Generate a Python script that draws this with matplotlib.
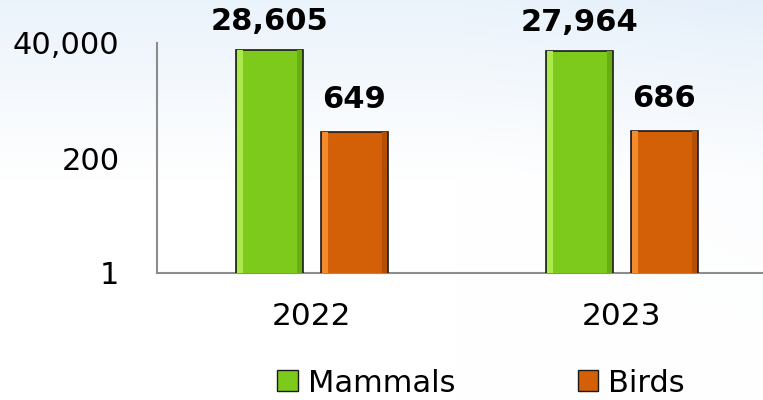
import matplotlib
matplotlib.use("Agg")
import matplotlib.pyplot as plt
import numpy as np
from matplotlib.patches import Patch

years = ["2022", "2023"]
mammals = [28605, 27964]
birds = [649, 686]
series_names = ["Mammals", "Birds"]
ytick_vals = [1, 200, 40000]
ytick_labels = ["1", "200", "40,000"]

green = "#7dc91c"
green_hi = "#aaea4c"
green_lo = "#68ad12"
orange = "#d35f07"
orange_hi = "#f38b2c"
orange_lo = "#b44f04"

plt.rcParams['font.family'] = ['DejaVu Sans']

fig = plt.figure(figsize=(7.63, 4.0), dpi=100)

# soft blue background gradient
bg = fig.add_axes([0, 0, 1, 1], zorder=-10)
gy, gx = np.mgrid[0:1:200j, 0:1:380j]
t = np.clip((gy - 0.55) / 0.45, 0, 1) * 0.8 + np.clip(gx - 0.6, 0, 1) * 0.5 * gy
t = np.clip(t, 0, 1)
top = np.array([0.90, 0.94, 0.98])
white = np.array([1.0, 1.0, 1.0])
img = white[None, None, :] * (1 - t[..., None]) + top[None, None, :] * t[..., None]
bg.imshow(img, origin="lower", aspect="auto", extent=[0, 1, 0, 1])
bg.axis("off")

ax = fig.add_axes([157 / 763, 1 - 273 / 400, 620 / 763, 230 / 400])
ax.patch.set_alpha(0)
x = np.arange(len(years))
w = 0.215
off = 0.137

ax.bar(x - off, mammals, w, color=green, edgecolor="#1a1a1a", linewidth=1.2, zorder=3)
ax.bar(x + off, birds, w, color=orange, edgecolor="#1a1a1a", linewidth=1.2, zorder=3)
# bevel: light strip on the left, darker strip on the right
ax.bar(x - off - w / 2 + 0.012, mammals, 0.018, color=green_hi, linewidth=0, zorder=4)
ax.bar(x + off - w / 2 + 0.012, birds, 0.018, color=orange_hi, linewidth=0, zorder=4)
ax.bar(x - off + w / 2 - 0.012, mammals, 0.016, color=green_lo, linewidth=0, zorder=4)
ax.bar(x + off + w / 2 - 0.012, birds, 0.016, color=orange_lo, linewidth=0, zorder=4)

for xi, v in zip(x - off, mammals):
    ax.annotate(f"{v:,}", (xi, v), xytext=(0, 10), textcoords="offset points",
                ha="center", va="bottom", fontsize=22, fontweight="bold")
for xi, v in zip(x + off, birds):
    ax.annotate(f"{v:,}", (xi, v), xytext=(0, 13), textcoords="offset points",
                ha="center", va="bottom", fontsize=22, fontweight="bold")

ax.set_yscale("log")
ax.set_ylim(1, 40000)
ax.set_xlim(-0.5, 1.5)
ax.set_yticks(ytick_vals)
ax.set_yticklabels(ytick_labels, fontsize=22)
ax.yaxis.set_minor_locator(matplotlib.ticker.NullLocator())
ax.set_xticks(x)
ax.set_xticklabels(years, fontsize=22.5)
ax.tick_params(length=0)
ax.tick_params(axis="x", pad=21)
ax.tick_params(axis="y", pad=27)
for s in ["top", "right"]:
    ax.spines[s].set_visible(False)
for s in ["left", "bottom"]:
    ax.spines[s].set_color("#8c8c8c")
    ax.spines[s].set_linewidth(1.5)

handles = [Patch(facecolor=green, edgecolor="#1a1a1a"), Patch(facecolor=orange, edgecolor="#1a1a1a")]
fig.legend(handles, series_names, loc="center", bbox_to_anchor=(481 / 763, 1 - 383 / 400),
           ncol=2, frameon=False, fontsize=22, handlelength=0.68, handleheight=0.68,
           handletextpad=0.33, columnspacing=4.0)

fig.savefig("out.png", dpi=100)
